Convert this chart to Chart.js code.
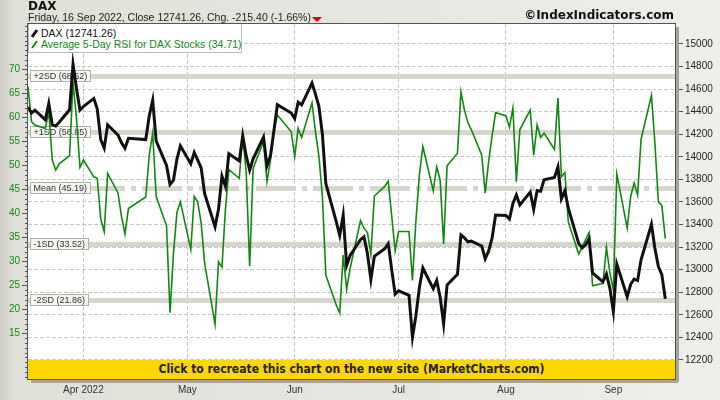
<!DOCTYPE html>
<html lang="en">
<head>
<meta charset="UTF-8">
<title>DAX - Average 5-Day RSI for DAX Stocks</title>
<script src="https://cdn.jsdelivr.net/npm/chart.js"></script>
<style>
  body { margin: 0; }
  #wrap {
    position: relative; width: 720px; height: 400px; overflow: hidden;
    background: linear-gradient(to right, #cfcfc7 0px, #e0e0d8 16px, #e6e6e0 50%, #eeeeea 100%);
    font-family: "Liberation Sans", Arial, sans-serif;
  }
  #chart { position: absolute; left: 0; top: 0; }
  .title { position: absolute; left: 28px; top: 0px; font: bold 12px "DejaVu Sans", sans-serif; color: #111; line-height: 12px; }
  .sub { position: absolute; left: 28px; top: 11px; font-size: 10.5px; color: #222; line-height: 12px; white-space: nowrap; }
  .down { position: absolute; left: 312px; top: 17px; width: 0; height: 0;
    border-left: 5px solid transparent; border-right: 5px solid transparent; border-top: 5px solid #d40000; }
  .brand { position: absolute; right: 46px; top: 9px; font: bold 12px "DejaVu Sans", sans-serif; color: #111; line-height: 13px; }
  .legend { position: absolute; left: 28px; top: 24px; width: 212px; height: 28px; background: #fff;
    border: 1px solid #b8b8b8; border-top: none; font-size: 10.5px; line-height: 12px; }
  .legend div { position: absolute; left: 12px; white-space: nowrap; }
  .legend svg { position: absolute; left: -10px; top: 2px; }
  .banner { position: absolute; left: 28px; top: 360px; width: 647px; height: 19px; background: #ffd700;
    text-align: center; font: bold 12px "DejaVu Sans Condensed", "DejaVu Sans", sans-serif; line-height: 19px; color: #222; }
</style>
</head>
<body>
<div id="wrap">
  <canvas id="chart" width="720" height="400"></canvas>
  <div class="title">DAX</div>
  <div class="sub">Friday, 16 Sep 2022, Close 12741.26, Chg. -215.40 (-1.66%)</div>
  <div class="down"></div>
  <div class="brand">©IndexIndicators.com</div>
  <div class="legend">
    <div style="top:3px;color:#111"><svg width="8" height="9"><line x1="1" y1="8" x2="6" y2="1" stroke="#111" stroke-width="3"/></svg>DAX (12741.26)</div>
    <div style="top:14px;color:#118811"><svg width="8" height="9"><line x1="1" y1="8" x2="6" y2="1" stroke="#118811" stroke-width="2"/></svg>Average 5-Day RSI for DAX Stocks (34.71)</div>
  </div>
  <div class="banner">Click to recreate this chart on the new site (MarketCharts.com)</div>
</div>

<script>
const tradeDates = [
  '2022-03-16','2022-03-17','2022-03-18','2022-03-21','2022-03-22','2022-03-23','2022-03-24','2022-03-25','2022-03-28','2022-03-29','2022-03-30','2022-03-31',
  '2022-04-01','2022-04-04','2022-04-05','2022-04-06','2022-04-07','2022-04-08','2022-04-11','2022-04-12','2022-04-13','2022-04-14','2022-04-19','2022-04-20','2022-04-21','2022-04-22','2022-04-25','2022-04-26','2022-04-27','2022-04-28','2022-04-29',
  '2022-05-02','2022-05-03','2022-05-04','2022-05-05','2022-05-06','2022-05-09','2022-05-10','2022-05-11','2022-05-12','2022-05-13','2022-05-16','2022-05-17','2022-05-18','2022-05-19','2022-05-20','2022-05-23','2022-05-24','2022-05-25','2022-05-26','2022-05-27','2022-05-31',
  '2022-06-01','2022-06-02','2022-06-03','2022-06-06','2022-06-07','2022-06-08','2022-06-09','2022-06-10','2022-06-13','2022-06-14','2022-06-15','2022-06-16','2022-06-17','2022-06-20','2022-06-21','2022-06-22','2022-06-23','2022-06-24','2022-06-27','2022-06-28','2022-06-29','2022-06-30',
  '2022-07-01','2022-07-04','2022-07-05','2022-07-06','2022-07-07','2022-07-08','2022-07-11','2022-07-12','2022-07-13','2022-07-14','2022-07-15','2022-07-18','2022-07-19','2022-07-20','2022-07-21','2022-07-22','2022-07-25','2022-07-26','2022-07-27','2022-07-28','2022-07-29',
  '2022-08-01','2022-08-02','2022-08-03','2022-08-04','2022-08-05','2022-08-08','2022-08-09','2022-08-10','2022-08-11','2022-08-12','2022-08-15','2022-08-16','2022-08-17','2022-08-18','2022-08-19','2022-08-22','2022-08-23','2022-08-24','2022-08-25','2022-08-26','2022-08-29','2022-08-30','2022-08-31',
  '2022-09-01','2022-09-02','2022-09-05','2022-09-06','2022-09-07','2022-09-08','2022-09-09','2022-09-12','2022-09-13','2022-09-14','2022-09-15','2022-09-16'
];

const daxClose = [
  14441,14388,14413,14327,14473,14284,14274,14306,14417,14820,14606,14415,
  14446,14518,14424,14152,14078,14284,14193,14125,14076,14164,14153,14362,14502,14142,13924,13756,13794,13980,14098,
  13939,14039,13971,13903,13674,13381,13535,13829,13740,14028,13964,14186,14008,13882,13982,14175,13920,14008,14231,14462,14388,
  14340,14485,14460,14654,14556,14446,14199,13762,13427,13304,13483,13038,13126,13266,13292,13144,12913,13118,13186,13232,13003,12784,
  12813,12773,12401,12595,12843,13015,12832,12905,12756,12520,12865,12960,13308,13282,13247,13254,13210,13097,13166,13282,13484,
  13480,13449,13588,13663,13574,13688,13535,13701,13695,13796,13817,13910,13627,13697,13545,13231,13194,13220,13272,12971,12893,12961,12835,
  12630,13050,12761,12871,12916,12904,13088,13403,13189,13028,12957,12741.26
];

const rsiAvg = [
  66.4,59.1,58.4,57.7,61.2,51.1,49.0,50.3,52.0,67.3,59.8,49.6,
  51.1,47.6,47.3,38.8,36.2,48.3,44.2,39.3,35.7,41.0,43.4,52.1,56.7,43.5,37.4,19.3,31.7,40.2,42.4,
  32.5,43.5,42.4,37.9,29.6,16.9,29.9,28.8,40.8,49.1,47.3,56.2,48.5,29.0,49.4,54.9,46.6,51.1,57.4,60.5,57.0,
  51.8,57.7,55.8,63.0,57.0,51.8,43.5,27.1,20.9,19.2,31.3,24.2,28.5,38.5,36.9,36.0,31.5,43.6,45.6,46.7,39.5,32.2,
  36.2,36.2,26.0,38.5,48.0,53.9,44.7,49.7,46.9,33.6,49.9,52.5,65.3,61.5,58.9,57.4,52.1,44.2,50.8,56.2,61.0,
  60.3,57.9,61.9,46.6,57.4,61.5,52.1,58.4,55.8,56.7,53.3,64.0,47.6,48.5,38.2,31.5,33.0,34.5,36.0,24.9,25.4,32.9,27.6,
  24.0,48.2,36.9,43.5,46.3,43.8,55.4,64.6,54.6,42.4,41.6,34.71
];

const monthStarts = ['2022-04-01','2022-05-01','2022-06-01','2022-07-01','2022-08-01','2022-09-01'];
const monthLabels = ['Apr 2022','May','Jun','Jul','Aug','Sep'];
const rsiTicks = [15,20,25,30,35,40,45,50,55,60,65,70];
const daxTicks = [12200,12400,12600,12800,13000,13200,13400,13600,13800,14000,14200,14400,14600,14800,15000];
const sdNames = ['+2SD','+1SD','Mean','-1SD','-2SD'];
const sdValues = [68.52, 56.85, 45.19, 33.52, 21.86];

// day of year 2022
const dayNum = d => (Date.UTC(+d.slice(0,4), +d.slice(5,7) - 1, +d.slice(8,10)) - Date.UTC(2022, 0, 0)) / 864e5;

const axisFont = { family: '"Liberation Sans", Arial, sans-serif', size: 10 };

const bandsPlugin = {
  id: 'bands',
  beforeDraw(chart) {
    const { ctx, chartArea: a } = chart;
    ctx.save();
    ctx.fillStyle = '#fff';
    ctx.fillRect(a.left, a.top, a.right - a.left, a.bottom - a.top);
    ctx.restore();
  },
  beforeDatasetsDraw(chart) {
    const { ctx, chartArea: a } = chart;
    const ys = chart.scales.rsi;
    ctx.save();
    ctx.beginPath();
    ctx.rect(a.left, a.top, a.right - a.left, a.bottom - a.top);
    ctx.clip();
    sdValues.forEach((v, i) => {
      const py = Math.round(ys.getPixelForValue(v)) + 0.5;
      ctx.strokeStyle = '#d6d6cd';
      ctx.lineWidth = 5;
      ctx.setLineDash(sdNames[i] === 'Mean' ? [40, 6, 5, 6] : []);
      ctx.beginPath();
      ctx.moveTo(a.left, py);
      ctx.lineTo(a.right, py);
      ctx.stroke();
    });
    ctx.setLineDash([]);
    ctx.font = '9px "Liberation Sans", Arial, sans-serif';
    ctx.textBaseline = 'middle';
    sdValues.forEach((v, i) => {
      const py = Math.round(ys.getPixelForValue(v));
      const txt = sdNames[i] + ' (' + v.toFixed(2) + ')';
      const w = Math.ceil(ctx.measureText(txt).width) + 6;
      ctx.fillStyle = '#f5f5f1';
      ctx.fillRect(a.left + 2.5, py - 5.5, w, 11);
      ctx.strokeStyle = '#b0b0a8';
      ctx.lineWidth = 1;
      ctx.strokeRect(a.left + 2.5, py - 5.5, w, 11);
      ctx.fillStyle = '#333';
      ctx.fillText(txt, a.left + 5.5, py + 0.5);
    });
    ctx.restore();
  },
  afterDraw(chart) {
    const { ctx, chartArea: a } = chart;
    const ys = chart.scales.rsi;
    ctx.save();
    // shadow + frame
    ctx.fillStyle = '#a4a49e';
    ctx.fillRect(a.right + 1, a.top + 3, 3, a.bottom - a.top);
    ctx.fillRect(a.left + 3, a.bottom + 1, a.right - a.left, 3);
    ctx.strokeStyle = '#555';
    ctx.lineWidth = 1;
    ctx.strokeRect(a.left - 0.5, a.top - 0.5, a.right - a.left + 1, a.bottom - a.top + 1);
    // minor ticks on left axis
    for (let v = Math.ceil(ys.min); v <= ys.max; v++) {
      const py = Math.round(ys.getPixelForValue(v)) + 0.5;
      ctx.beginPath();
      ctx.moveTo(a.left - 3, py);
      ctx.lineTo(a.left, py);
      ctx.stroke();
    }
    ctx.restore();
  }
};

new Chart(document.getElementById('chart'), {
  type: 'line',
  data: {
    datasets: [{
      label: 'DAX',
      data: tradeDates.map((d, i) => ({ x: dayNum(d), y: daxClose[i] })),
      yAxisID: 'dax',
      borderColor: '#111',
      borderWidth: 3,
      pointRadius: 0,
      tension: 0
    }, {
      label: 'Average 5-Day RSI for DAX Stocks',
      data: tradeDates.map((d, i) => ({ x: dayNum(d), y: rsiAvg[i] })),
      yAxisID: 'rsi',
      borderColor: '#118811',
      borderWidth: 1.6,
      pointRadius: 0,
      tension: 0
    }]
  },
  options: {
    responsive: false,
    animation: false,
    layout: { padding: { top: 24, left: 0, right: 0, bottom: 0 } },
    plugins: { legend: { display: false }, tooltip: { enabled: false } },
    scales: {
      x: {
        type: 'linear',
        min: 75,
        max: 261.8,
        afterBuildTicks: s => { s.ticks = monthStarts.map(d => ({ value: dayNum(d) })); },
        afterFit: s => { s.height = 21; },
        ticks: { callback: (v, i) => monthLabels[i], font: axisFont, color: '#333', padding: 2, maxRotation: 0, autoSkip: false },
        grid: { color: '#c8c8c8', tickLength: 3, tickColor: '#777' },
        border: { display: false, dash: [4, 2] }
      },
      rsi: {
        type: 'linear',
        position: 'left',
        min: 5.48,
        max: 79.44,
        afterBuildTicks: s => { s.ticks = rsiTicks.map(v => ({ value: v })); },
        afterFit: s => { s.width = 28; },
        ticks: { font: axisFont, color: '#138a13', padding: 2 },
        grid: { drawOnChartArea: false, tickLength: 6, tickColor: '#555' },
        border: { display: false }
      },
      dax: {
        type: 'linear',
        position: 'right',
        min: 12031.6,
        max: 15177.2,
        afterBuildTicks: s => { s.ticks = daxTicks.map(v => ({ value: v })); },
        afterFit: s => { s.width = 45; },
        ticks: { font: axisFont, color: '#222', padding: 2, callback: v => String(v) },
        grid: { color: '#c8c8c8', tickLength: 8, tickColor: '#555' },
        border: { display: false, dash: [4, 2] }
      }
    }
  },
  plugins: [bandsPlugin]
});
</script>
</body>
</html>
